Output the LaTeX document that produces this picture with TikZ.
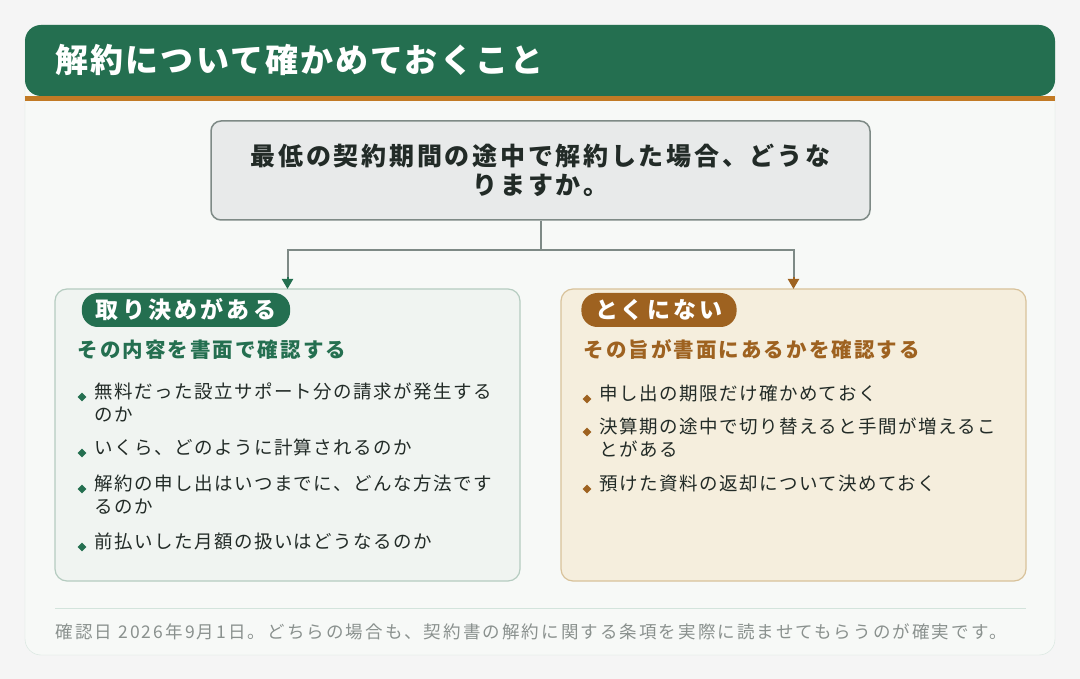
\documentclass[tikz,border=0pt]{standalone}
\usepackage{fontspec}
\setmainfont{Noto Sans CJK JP}
\usetikzlibrary{arrows.meta}
\definecolor{hdgreen}{HTML}{246F50}
\definecolor{hdorange}{HTML}{C27A25}
\definecolor{cardbg}{HTML}{F7F9F7}
\definecolor{cardline}{HTML}{D3E4DC}
\definecolor{qbg}{HTML}{E8EAEA}
\definecolor{qline}{HTML}{7E8A86}
\definecolor{lbg}{HTML}{F0F4F1}
\definecolor{lline}{HTML}{B5CCC0}
\definecolor{rbg}{HTML}{F5EEDD}
\definecolor{rline}{HTML}{D8C29A}
\definecolor{brown}{HTML}{9E6220}
\definecolor{txt}{HTML}{222B27}
\definecolor{foot}{HTML}{8A918E}
\tikzset{
  pill/.style={rounded corners=16pt,inner xsep=14pt,minimum height=34pt,text=white,font=\fontsize{23}{26}\selectfont\bfseries\addfontfeature{LetterSpace=14}},
  sub/.style={anchor=west,font=\fontsize{20.5}{24}\selectfont\bfseries\addfontfeature{LetterSpace=10}},
  item/.style={anchor=north west,text=txt,align=left,inner sep=0pt,font=\fontsize{18.5}{23}\selectfont\addfontfeature{LetterSpace=8}},
  dot/.style={diamond,inner sep=0pt,minimum size=9pt}
}
\usetikzlibrary{shapes.geometric}
\begin{document}
\begin{tikzpicture}[x=1pt,y=-1pt]
  %hintergrund und karte
  \fill[black!4!white] (0,0) rectangle (1080,679);
  \useasboundingbox (0,0) rectangle (1080,679);
  \draw[cardline,fill=cardbg,rounded corners=16pt] (25,25) rectangle (1055,655);
  %kopf
  \fill[hdgreen,rounded corners=16pt] (25,96) -- (25,25) -- (1055,25) -- (1055,96) -- cycle;
  \fill[hdorange] (25,96) rectangle (1055,101);
  \node[anchor=west,text=white,font=\fontsize{33}{36}\selectfont\bfseries\addfontfeature{LetterSpace=6.5}] (title) at (52,60) {解約について確かめておくこと};

  %frage
  \node[draw=qline,line width=1.5pt,fill=qbg,rounded corners=10pt,minimum width=659pt,minimum height=99pt,
        align=center,text=txt,font=\fontsize{25}{29}\selectfont\bfseries\addfontfeature{LetterSpace=11}] (q) at (540.5,170.5)
        {最低の契約期間の途中で解約した場合、どうな\\りますか。};

  %zwei felder
  \draw[lline,line width=1.2pt,fill=lbg,rounded corners=12pt] (55,289) rectangle (520,581);
  \draw[rline,line width=1.2pt,fill=rbg,rounded corners=12pt] (561,289) rectangle (1026,581);
  \coordinate (lt) at (287.5,289);
  \coordinate (rt) at (793.5,289);
  \coordinate (mid) at (540.5,250);

  %verbinder
  \draw[qline,line width=2pt] (q.south) -- (mid);
  \draw[qline,line width=2pt] (mid) -| ([yshift=12pt]lt);
  \draw[qline,line width=2pt] (mid) -| ([yshift=12pt]rt);
  \draw[hdgreen,line width=2pt,-{Triangle[length=10pt,width=11pt]}] ([yshift=12pt]lt) -- (lt);
  \draw[brown,line width=2pt,-{Triangle[length=10pt,width=11pt]}] ([yshift=12pt]rt) -- (rt);

  %links
  \node[pill,fill=hdgreen] (pl) at (186,310) {取り決めがある};
  \node[sub,text=hdgreen] (sl) at (74,350) {その内容を書面で確認する};
  \foreach \y/\t in {383/{無料だった設立サポート分の請求が発生する\\のか},
                     439/{いくら、どのように計算されるのか},
                     475/{解約の申し出はいつまでに、どんな方法です\\るのか},
                     533/{前払いした月額の扱いはどうなるのか}}{
    \node[dot,fill=hdgreen] at (82,\y+14) {};
    \node[item] at (94,\y) {\t};
  }

  %rechts
  \node[pill,fill=brown] (pr) at (659,310) {とくにない};
  \node[sub,text=brown] (sr) at (580,350) {その旨が書面にあるかを確認する};
  \foreach \y/\t in {385/{申し出の期限だけ確かめておく},
                     418/{決算期の途中で切り替えると手間が増えるこ\\とがある},
                     475/{預けた資料の返却について決めておく}}{
    \node[dot,fill=brown] at (587,\y+14) {};
    \node[item] at (599,\y) {\t};
  }

  %fuss
  \draw[cardline] (55,608) -- (1026,608);
  \node[anchor=west,text=foot,font=\fontsize{17.5}{20}\selectfont\addfontfeature{LetterSpace=12}] (ft) at (52,632)
    {確認日 2026年9月1日。どちらの場合も、契約書の解約に関する条項を実際に読ませてもらうのが確実です。};
\end{tikzpicture}
\end{document}
